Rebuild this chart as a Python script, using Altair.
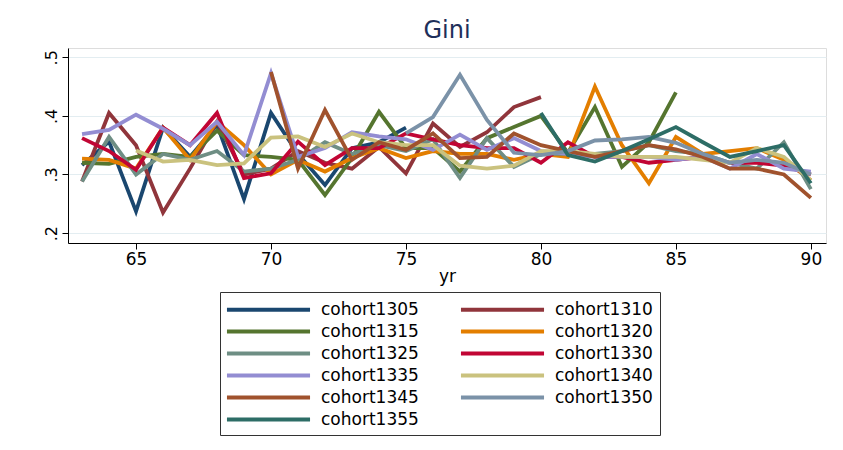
import altair as alt
import pandas as pd

years = list(range(63, 91))
N = None

cohorts = ["cohort1305", "cohort1310", "cohort1315", "cohort1320", "cohort1325", "cohort1330",
           "cohort1335", "cohort1340", "cohort1345", "cohort1350", "cohort1355"]

c1305 = [0.316, 0.356, 0.237, 0.38, 0.33, 0.385, 0.258, 0.405, 0.335, 0.282, 0.345, 0.355, 0.38] + [N] * 15
c1310 = [0.288, 0.405, 0.35, 0.235, 0.31, 0.39, 0.30, 0.31, 0.34, 0.32, 0.31, 0.347, 0.302, 0.387,
         0.347, 0.372, 0.415, 0.432] + [N] * 10
c1315 = [0.32, 0.318, 0.33, 0.335, 0.33, 0.375, 0.333, 0.33, 0.325, 0.265, 0.328, 0.407, 0.345, 0.345,
         0.305, 0.362, 0.381, 0.40, 0.337, 0.415, 0.313, 0.355, 0.44] + [N] * 5
c1320 = [0.327, 0.325, 0.31, 0.38, 0.325, 0.39, 0.35, 0.30, 0.325, 0.305, 0.328, 0.345, 0.328, 0.34,
         0.335, 0.335, 0.325, 0.335, 0.33, 0.45, 0.35, 0.285, 0.364, 0.335, 0.34, 0.345, 0.325, 0.29]
c1325 = [0.288, 0.364, 0.30, 0.335, 0.325, 0.34, 0.305, 0.31, 0.325, 0.355, 0.335, 0.35, 0.34, 0.36,
         0.294, 0.362, 0.313, 0.335, 0.335, 0.335, 0.34, 0.35, 0.34, 0.335, 0.32, 0.31, 0.355, 0.275]
c1330 = [0.362, 0.34, 0.308, 0.38, 0.35, 0.405, 0.294, 0.302, 0.356, 0.316, 0.345, 0.345, 0.37, 0.36,
         0.35, 0.345, 0.345, 0.32, 0.355, 0.33, 0.33, 0.32, 0.325, 0.33, 0.32, 0.32, 0.315, 0.30]
c1335 = [0.369, 0.376, 0.402, 0.378, 0.35, 0.39, 0.333, 0.473, 0.33, 0.345, 0.372, 0.365, 0.36, 0.342,
         0.368, 0.342, 0.362, 0.34, 0.335, 0.33, 0.33, 0.33, 0.325, 0.33, 0.31, 0.335, 0.31, 0.305]
c1340 = [N, N, 0.341, 0.322, 0.325, 0.316, 0.319, 0.363, 0.365, 0.347, 0.37, 0.355, 0.35, 0.35,
         0.315, 0.31, 0.315, 0.34, 0.34, 0.335, 0.33, 0.33, 0.33, 0.325, 0.32, 0.345, 0.33, 0.29]
c1345 = [N] * 7 + [0.475, 0.31, 0.41, 0.325, 0.355, 0.342, 0.37, 0.328, 0.33, 0.37, 0.35, 0.34,
                   0.33, 0.34, 0.35, 0.343, 0.33, 0.31, 0.31, 0.30, 0.26]
c1350 = [N] * 12 + [0.37, 0.398, 0.47, 0.393, 0.337, 0.333, 0.34, 0.358, 0.36, 0.364, 0.354,
                    0.335, 0.32, 0.325, 0.32, 0.30]
c1355 = [N] * 17 + [0.405, 0.333, 0.322, 0.34, 0.36, 0.381, 0.355, 0.33, 0.34, 0.35, 0.285]

series = [c1305, c1310, c1315, c1320, c1325, c1330, c1335, c1340, c1345, c1350, c1355]

colors = ["#1a476f", "#90353b", "#55752f", "#e37e00", "#6e8e84", "#c10534",
          "#938dd2", "#cac27e", "#a0522d", "#7b92a8", "#2d6d66"]

x_ticks = [65, 70, 75, 80, 85, 90]
y_ticks = [0.2, 0.3, 0.4, 0.5]

rows = []
for name, vals in zip(cohorts, series):
    for yr, v in zip(years, vals):
        if v is not None:
            rows.append({"yr": yr, "gini": v, "cohort": name})
df = pd.DataFrame(rows)

FONT = "DejaVu Sans"

chart = alt.Chart(df).mark_line(strokeWidth=3.8, strokeJoin="miter").encode(
    x=alt.X("yr:Q",
            scale=alt.Scale(domain=[62.48, 90.56], nice=False, zero=False),
            axis=alt.Axis(values=x_ticks, grid=False, title="yr", labelFontSize=17,
                          titleFontSize=17, titleFontWeight="normal", titlePadding=1,
                          tickSize=6, labelPadding=2, domainColor="#000", tickColor="#000",
                          labelColor="#000", titleColor="#000", labelFont=FONT, titleFont=FONT)),
    y=alt.Y("gini:Q",
            scale=alt.Scale(domain=[0.1831, 0.5158], nice=False, zero=False),
            axis=alt.Axis(values=y_ticks, title=None, grid=True, gridColor="#e3edf1",
                          gridWidth=1.2,
                          labelExpr="replace(format(datum.value, '.1f'), '0.', '.')",
                          labelAngle=270, labelAlign="center", labelBaseline="bottom",
                          labelFontSize=16, labelPadding=3, tickSize=6,
                          domainColor="#000", tickColor="#000", labelColor="#000",
                          labelFont=FONT)),
    color=alt.Color("cohort:N",
                    scale=alt.Scale(domain=cohorts, range=colors),
                    legend=alt.Legend(title=None, orient="none", legendX=152, legendY=244,
                                      direction="horizontal",
                                      columns=2, symbolType="M-5,0L5,0", symbolSize=276,
                                      symbolStrokeWidth=4, symbolOffset=31, labelOffset=42,
                                      labelFontSize=17, labelFont=FONT, labelColor="#000",
                                      columnPadding=33, rowPadding=3, padding=7,
                                      strokeColor="#333", fillColor="#fff", cornerRadius=0)),
).properties(
    width=758, height=195,
    title=alt.TitleParams("Gini", fontSize=24, font=FONT, fontWeight="normal",
                          color="#1e2f5a", anchor="middle", offset=5),
    autosize=alt.AutoSizeParams(type="none"),
    padding={"left": 60, "top": 40, "right": 9, "bottom": 199},
).configure_view(stroke=None).configure(background="#ffffff")

chart.save("out.html", embed_options={"renderer": "svg", "actions": False})
